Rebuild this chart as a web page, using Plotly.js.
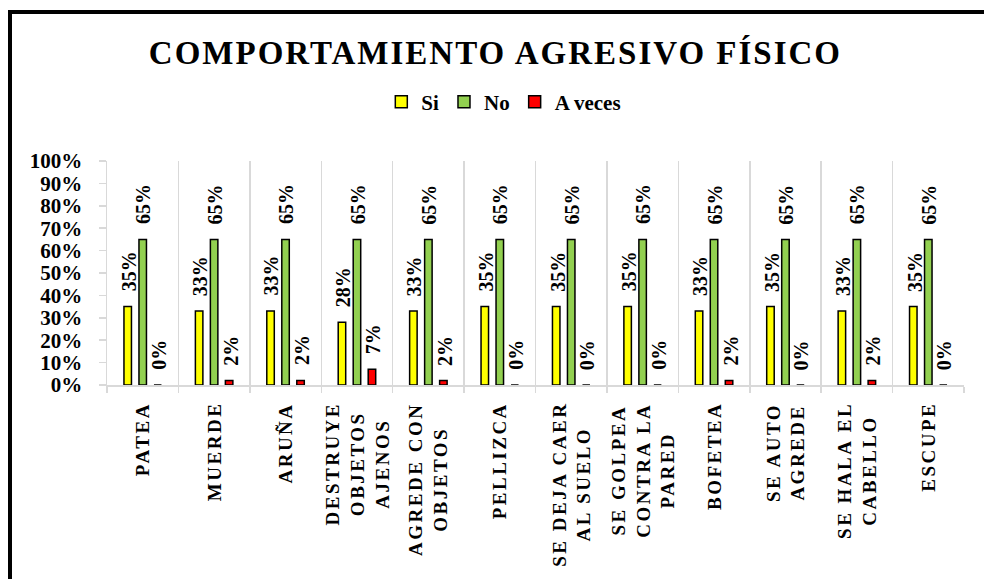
<!DOCTYPE html>
<html><head><meta charset="utf-8">
<script src="https://cdn.plot.ly/plotly-3.0.1.min.js"></script>
<style>
html,body{margin:0;padding:0;background:#fff;}
#chart{width:984px;height:579px;position:absolute;left:0;top:0;}
#frame{position:absolute;left:8px;top:10px;width:1000px;height:620px;border-left:4px solid #000;border-top:4px solid #000;pointer-events:none;}
.gtitle{letter-spacing:2px;}
</style></head><body>
<div id="chart"></div><div id="frame"></div>
<script>
const categories = ['PATEA','MUERDE','ARUÑA','DESTRUYE OBJETOS AJENOS','AGREDE CON OBJETOS','PELLIZCA','SE DEJA CAER AL SUELO','SE GOLPEA CONTRA LA PARED','BOFETEA','SE AUTO AGREDE','SE HALA EL CABELLO','ESCUPE'];
const categoryLabels = ['PATEA','MUERDE','ARUÑA','DESTRUYE<br>OBJETOS<br>AJENOS','AGREDE CON<br>OBJETOS','PELLIZCA','SE DEJA CAER<br>AL SUELO','SE GOLPEA<br>CONTRA LA<br>PARED','BOFETEA','SE AUTO<br>AGREDE','SE HALA EL<br>CABELLO','ESCUPE'];
const seriesNames = ['Si','No','A veces'];
const siValues = [0.35,0.33,0.33,0.28,0.33,0.35,0.35,0.35,0.33,0.35,0.33,0.35];
const noValues = [0.65,0.65,0.65,0.65,0.65,0.65,0.65,0.65,0.65,0.65,0.65,0.65];
const aVecesValues = [0.00,0.02,0.02,0.07,0.02,0.00,0.00,0.00,0.02,0.00,0.02,0.00];
const yTickVals = [0,0.1,0.2,0.3,0.4,0.5,0.6,0.7,0.8,0.9,1];
const yTickText = ['0%','10%','20%','30%','40%','50%','60%','70%','80%','90%','100%'];

const seriesValues = [siValues, noValues, aVecesValues];
const seriesColors = ['#FFFF00','#92D050','#FF0000'];
const barOffsets = [-15, 0, 15];
const FONT = 'Liberation Serif, Times New Roman, serif';
const CAT_LS = 2.5;

const traces = seriesValues.map((vals, s) => ({
  type: 'bar',
  name: seriesNames[s],
  x: categories,
  y: vals,
  marker: {color: seriesColors[s], line: {color: '#000000', width: 1.5}},
  hoverinfo: 'skip'
}));

const annotations = [];
seriesValues.forEach((vals, s) => {
  vals.forEach((v, i) => {
    annotations.push({
      x: categories[i], y: v, xref: 'x', yref: 'y',
      text: Math.round(v * 100) + '%',
      textangle: -90, showarrow: false,
      xanchor: 'center', yanchor: 'bottom',
      xshift: barOffsets[s] + 1, yshift: 13,
      font: {family: FONT, size: 20, color: '#000', weight: 'bold'}
    });
  });
});
const nData = annotations.length;
categoryLabels.forEach((lab, i) => {
  const maxLen = Math.max(...lab.split('<br>').map(t => t.length));
  annotations.push({
    x: categories[i], y: 0, xref: 'x', yref: 'paper',
    text: lab, textangle: -90, showarrow: false, align: 'center',
    xanchor: 'center', yanchor: 'top',
    yshift: -15 - maxLen * CAT_LS / 2,
    font: {family: FONT, size: 19, color: '#000', weight: 'bold'}
  });
});

// letter spacing for category labels
const st = document.createElement('style');
let css = '';
for (let k = nData; k < annotations.length; k++) {
  css += 'g.annotation[data-index="' + k + '"] text{letter-spacing:' + CAT_LS + 'px;}\n';
}
st.textContent = css;
document.head.appendChild(st);

const layout = {
  width: 984, height: 579,
  paper_bgcolor: '#ffffff', plot_bgcolor: '#ffffff',
  margin: {l: 107, r: 20, t: 161, b: 194, pad: 0},
  font: {family: FONT, color: '#000', weight: 'bold'},
  title: {
    text: 'COMPORTAMIENTO AGRESIVO FÍSICO',
    xref: 'container', yref: 'container',
    x: 0.5035, xanchor: 'center', y: 1 - 52 / 579, yanchor: 'middle',
    font: {family: FONT, size: 33, color: '#000', weight: 'bold'}
  },
  showlegend: true,
  legend: {
    orientation: 'h', xref: 'container', yref: 'container',
    x: 0.512, xanchor: 'center', y: 1 - 102 / 579, yanchor: 'middle',
    font: {family: FONT, size: 21, color: '#000', weight: 'bold'},
    itemwidth: 30, traceorder: 'normal'
  },
  barmode: 'group',
  bargap: 0.37,
  bargroupgap: 0.5,
  xaxis: {
    type: 'category', categoryorder: 'array', categoryarray: categories,
    showline: true, linecolor: '#d9d9d9', linewidth: 1.5,
    ticks: 'outside', tickson: 'boundaries', ticklen: 6, tickcolor: '#d9d9d9', tickwidth: 1.5,
    showgrid: true, gridcolor: '#d9d9d9', gridwidth: 1.5,
    showticklabels: false, fixedrange: true
  },
  yaxis: {
    range: [0, 1], tickvals: yTickVals, ticktext: yTickText,
    showline: true, linecolor: '#d9d9d9', linewidth: 1.5,
    ticks: 'outside', ticklen: 7, tickcolor: '#d9d9d9', tickwidth: 1.5,
    showgrid: false, zeroline: false,
    tickfont: {family: FONT, size: 21, color: '#000', weight: 'bold'},
    ticklabelstandoff: 12, fixedrange: true
  },
  annotations: annotations
};

Plotly.newPlot('chart', traces, layout, {displayModeBar: false, staticPlot: true});
</script>
</body></html>
